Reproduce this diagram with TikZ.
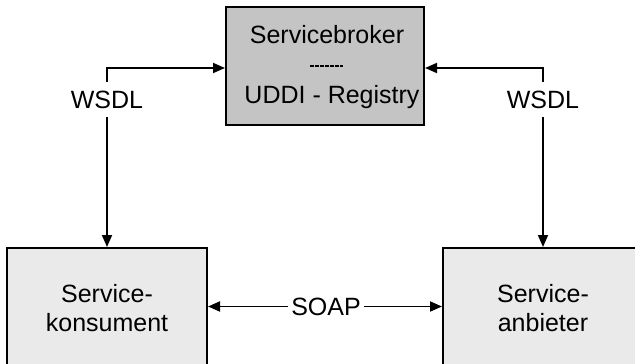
\documentclass[tikz,border=0pt]{standalone}
\usepackage{fontspec}
\setmainfont{Liberation Sans}
\usetikzlibrary{arrows.meta}
\definecolor{brokergray}{HTML}{C4C4C4}
\definecolor{partygray}{HTML}{EAEAEA}
\begin{document}
\begin{tikzpicture}[x=1pt,y=-1pt,
  box/.style={draw=black, line width=2pt, rectangle, inner sep=0pt},
  lbl/.style={font=\fontsize{25}{30}\selectfont, inner xsep=3pt, inner ysep=0pt,
              text height=17pt, text depth=0pt, anchor=base},
  wsdl/.style={lbl, inner ysep=9pt},
  conn/.style={line width=1.8pt, -{Triangle[length=12pt,width=10pt]}}
]
\useasboundingbox (0,0) rectangle (635,364);

% boxes
\node[box, fill=brokergray, minimum width=198pt, minimum height=118pt] (broker) at (325,66) {};
\node[box, fill=partygray, minimum width=200pt, minimum height=130pt] (consumer) at (107,313) {};
\node[box, fill=partygray, minimum width=200pt, minimum height=130pt] (provider) at (543,313) {};

% box texts
\node[lbl] (brokerA) at (327,43) {Servicebroker};
\node[lbl] (brokerB) at (332,103) {UDDI - Registry};
\draw[line width=2.5pt, dash pattern=on 3.5pt off 1.5pt] (310,66) -- (343,66);

\node[lbl] (consA) at (107,302) {Service-};
\node[lbl] (consB) at (107,331) {konsument};
\node[lbl] (provA) at (543,302) {Service-};
\node[lbl] (provB) at (543,331) {anbieter};

% connector labels
\node[wsdl] (wsdlL) at (107,108) {WSDL};
\node[wsdl] (wsdlR) at (543,108) {WSDL};
\node[lbl] (soap) at (326,315) {SOAP};

% connectors
\draw[conn] (wsdlL.north) |- ([yshift=-2pt]broker.west);
\draw[conn] (wsdlL.south) -- (consumer.north);
\draw[conn] (wsdlR.north) |- ([yshift=-2pt]broker.east);
\draw[conn] (wsdlR.south) -- (provider.north);
\draw[conn] (soap.west) -- (soap.west -| consumer.east);
\draw[conn] (soap.east) -- (soap.east -| provider.west);
\end{tikzpicture}
\end{document}
